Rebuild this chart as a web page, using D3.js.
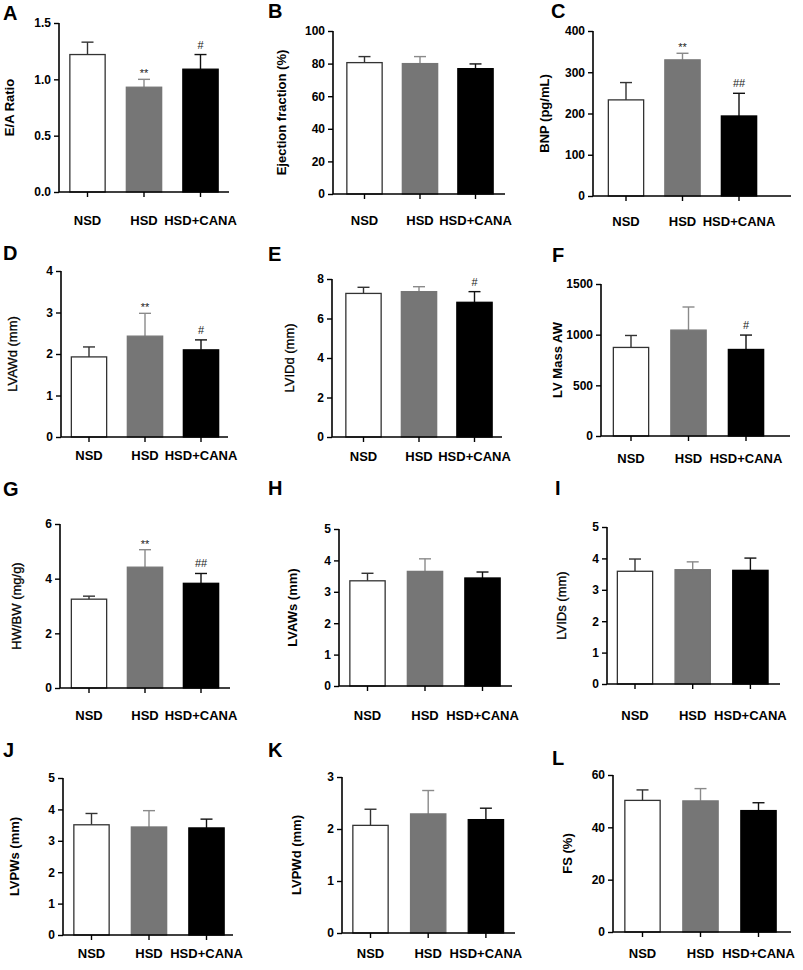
<!DOCTYPE html>
<html><head><meta charset="utf-8">
<script src="https://cdn.jsdelivr.net/npm/d3@7"></script>
<style>
body{margin:0;background:#fff;}
svg{display:block;font-family:"Liberation Sans",Arial,sans-serif;}
</style></head>
<body><svg id="c" width="803" height="970"></svg>
<script>
// ---- data ----
const categories = ["NSD", "HSD", "HSD+CANA"];
const panelLetters = ["A","B","C","D","E","F","G","H","I","J","K","L"];
const yTitles = ["E/A Ratio","Ejection fraction (%)","BNP (pg/mL)","LVAWd (mm)","LVIDd (mm)","LV Mass AW",
                 "HW/BW (mg/g)","LVAWs (mm)","LVIDs (mm)","LVPWs (mm)","LVPWd (mm)","FS (%)"];
const yMax = [1.5, 100, 400, 4, 8, 1500, 6, 5, 5, 5, 3, 60];
const yStep = [0.5, 20, 100, 1, 2, 500, 2, 1, 1, 1, 1, 20];
const tickFormats = [".1f","d","d","d","d","d","d","d","d","d","d","d"];
const means = [
  [1.22, 0.93, 1.09],
  [80.6, 80.0, 76.9],
  [233, 330, 194],
  [1.93, 2.43, 2.10],
  [7.27, 7.36, 6.82],
  [874, 1045, 854],
  [3.25, 4.42, 3.83],
  [3.35, 3.65, 3.44],
  [3.59, 3.64, 3.62],
  [3.51, 3.44, 3.41],
  [2.07, 2.29, 2.18],
  [50.3, 50.1, 46.4]
];
const errors = [
  [0.11, 0.07, 0.13],
  [3.7, 4.3, 2.9],
  [42, 16, 55],
  [0.24, 0.55, 0.24],
  [0.31, 0.25, 0.54],
  [118, 228, 142],
  [0.11, 0.64, 0.36],
  [0.24, 0.40, 0.19],
  [0.39, 0.25, 0.39],
  [0.36, 0.52, 0.28],
  [0.31, 0.45, 0.22],
  [4.0, 4.7, 3.0]
];
const significance = [
  ["", "**", "#"],
  ["", "", ""],
  ["", "**", "##"],
  ["", "**", "#"],
  ["", "", "#"],
  ["", "", "#"],
  ["", "**", "##"],
  ["", "", ""],
  ["", "", ""],
  ["", "", ""],
  ["", "", ""],
  ["", "", ""]
];

// ---- layout (pixel geometry per panel) ----
const layout = [
  {ax:59,  c0:87.5,  step:56.5, end:229, top:23,  zero:192, lx:3,   ly:20,  tx:10,  cy:225, tb:true},
  {ax:333, c0:364.5, step:55.5, end:505, top:31,  zero:194, lx:268, ly:18,  tx:282, cy:225, tb:true},
  {ax:593, c0:626,   step:56.5, end:791, top:31,  zero:196, lx:551, ly:18,  tx:545, cy:226, tb:true},
  {ax:61,  c0:89,    step:56,   end:228, top:271, zero:437, lx:3,   ly:260, tx:13,  cy:460, tb:false},
  {ax:332, c0:363.5, step:55.5, end:502, top:279, zero:437, lx:268, ly:261, tx:290, cy:461, tb:false},
  {ax:601, c0:631,   step:57.5, end:790, top:284, zero:436, lx:552, ly:262, tx:558, cy:463, tb:true},
  {ax:60,  c0:89,    step:56,   end:230, top:524, zero:688, lx:3,   ly:496, tx:17,  cy:720, tb:false},
  {ax:339, c0:367.5, step:57.5, end:512, top:529, zero:686, lx:268, ly:495, tx:293, cy:720, tb:true},
  {ax:607, c0:635,   step:57.7, end:780, top:527, zero:684, lx:555, ly:495, tx:562, cy:720, tb:false},
  {ax:63,  c0:91.5,  step:57.5, end:233, top:778, zero:935, lx:3,   ly:757, tx:15,  cy:958, tb:true},
  {ax:342, c0:370.5, step:57.7, end:515, top:777, zero:933, lx:268, ly:757, tx:297, cy:958, tb:true},
  {ax:613, c0:642.5, step:58,   end:791, top:775, zero:932, lx:552, ly:765, tx:568, cy:958, tb:true}
];
const barFill = ["#ffffff", "#767676", "#000000"];
const barStroke = ["#333333", "#767676", "#000000"];
const errColor = ["#333333", "#8a8a8a", "#111111"];
const barW = 36.5, capW = 12;

const svg = d3.select("#c");

panelLetters.forEach((letter, i) => {
  const L = layout[i];
  const g = svg.append("g");
  const x = d3.scaleBand()
    .domain(categories)
    .range([L.c0 - L.step/2, L.c0 + 2.5*L.step])
    .paddingInner(1 - barW / L.step)
    .paddingOuter((1 - barW / L.step) / 2);
  const y = d3.scaleLinear().domain([0, yMax[i]]).range([L.zero, L.top]);
  const ticks = d3.range(0, yMax[i] + yStep[i]*0.01, yStep[i]);

  categories.forEach((c, j) => {
    const v = means[i][j], e = errors[i][j];
    const cx = x(c) + x.bandwidth()/2;
    g.append("line").attr("x1", cx).attr("x2", cx)
      .attr("y1", y(v)).attr("y2", y(v + e))
      .attr("stroke", errColor[j]).attr("stroke-width", 1.4);
    g.append("line").attr("x1", cx - capW/2).attr("x2", cx + capW/2)
      .attr("y1", y(v + e)).attr("y2", y(v + e))
      .attr("stroke", errColor[j]).attr("stroke-width", 1.4);
    g.append("rect")
      .attr("x", x(c) + 0.6).attr("width", x.bandwidth() - 1.2)
      .attr("y", y(v)).attr("height", y(0) - y(v))
      .attr("fill", barFill[j]).attr("stroke", barStroke[j]).attr("stroke-width", 1.3);
    const s = significance[i][j];
    if (s) {
      g.append("text").attr("x", cx)
        .attr("y", y(v + e) - (s.startsWith("*") ? 2 : 6))
        .attr("text-anchor", "middle").attr("font-size", 11)
        .attr("fill", "#222")
        .text(s);
    }
  });

  const yAxis = d3.axisLeft(y).tickValues(ticks).tickSize(5).tickPadding(3)
    .tickFormat(d3.format(tickFormats[i]));
  const ya = g.append("g").attr("transform", `translate(${L.ax},0)`).call(yAxis);
  ya.select(".domain").attr("stroke", "#000").attr("stroke-width", 1.6).attr("d", `M0,${L.zero}V${L.top}`);
  ya.selectAll(".tick line").attr("stroke", "#000").attr("stroke-width", 1.4);
  ya.selectAll(".tick text").attr("font-size", 12).attr("font-weight", "bold").attr("fill", "#000")
    .attr("font-family", '"Liberation Sans",Arial,sans-serif');

  const xAxis = d3.axisBottom(x).tickSize(5).tickFormat("");
  const xa = g.append("g").attr("transform", `translate(0,${L.zero})`).call(xAxis);
  xa.select(".domain").attr("stroke", "#000").attr("stroke-width", 1.6).attr("d", `M${L.ax},0H${L.end}`);
  xa.selectAll(".tick line").attr("stroke", "#000").attr("stroke-width", 1.4);

  categories.forEach(c => {
    g.append("text").attr("x", x(c) + x.bandwidth()/2).attr("y", L.cy)
      .attr("text-anchor", "middle").attr("font-size", 13).attr("font-weight", "bold")
      .attr("fill", "#000").text(c);
  });

  const t = g.append("text")
    .attr("transform", `translate(${L.tx + 4},${(L.top + L.zero)/2}) rotate(-90)`)
    .attr("text-anchor", "middle").attr("font-size", 13)
    .attr("font-weight", L.tb ? "bold" : "normal").attr("fill", "#000")
    .text(yTitles[i]);
  if (!L.tb) t.attr("stroke", "#000").attr("stroke-width", 0.3);

  g.append("text").attr("x", L.lx).attr("y", L.ly)
    .attr("font-size", 20).attr("font-weight", "bold").attr("fill", "#000")
    .text(letter);
});
</script></body></html>
